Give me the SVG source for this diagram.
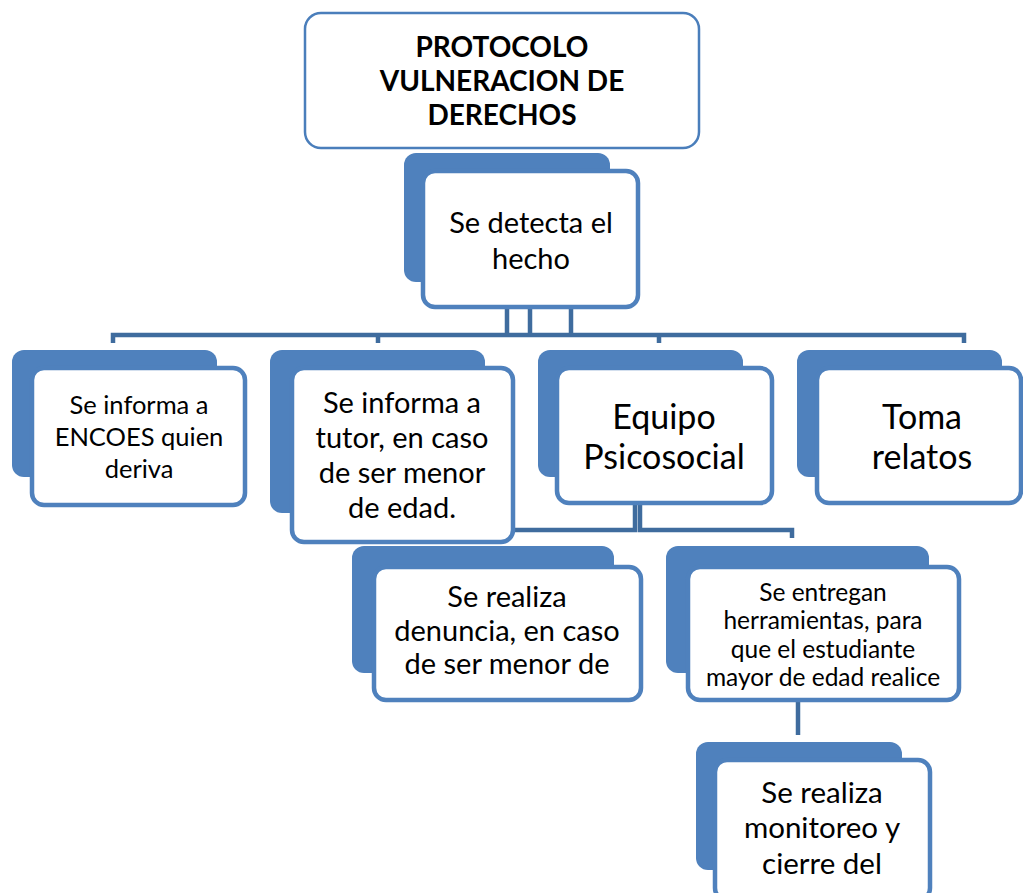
<svg xmlns="http://www.w3.org/2000/svg" width="1023" height="893" viewBox="0 0 1023 893">
<style>
.back{fill:#4f81bd;}
.front{fill:#ffffff;stroke:#4f81bd;stroke-width:4.5;}
.top{fill:#ffffff;stroke:#4a7ebb;stroke-width:2.5;}
.conn{stroke:#3f6c9e;stroke-width:4.5;fill:none;}
text{font-family:Lato,"Liberation Sans",sans-serif;fill:#000;text-anchor:middle;}
.t{font-weight:bold;font-size:28px;}
</style>
<rect width="1023" height="893" fill="#ffffff"/>
<g id="connectors">
<path class="conn" d="M507,307 V335 M530,307 V335 M571,307 V335 M113,343 V335 H964 V343 M378,335 V343 M659,335 V343"/>
<path class="conn" d="M635,503 V530 H495 M640,503 V530 H792 V538"/>
<path class="conn" d="M798,700 V735"/>
</g>
<g id="n-protocolo">
<rect class="top" x="305" y="13" width="394" height="135" rx="16"/>
<text class="t" x="502" y="57">PROTOCOLO</text>
<text class="t" x="502" y="91">VULNERACION DE</text>
<text class="t" x="502" y="125">DERECHOS</text>
</g>
<g id="n-detecta">
<rect class="back" x="404" y="153" width="206" height="129" rx="12"/>
<rect class="front" x="423" y="171" width="215" height="136" rx="12"/>
<text x="531" y="233" font-size="29">Se detecta el</text>
<text x="531" y="269" font-size="29">hecho</text>
</g>
<g id="n-encoes">
<rect class="back" x="12" y="350" width="205" height="127" rx="12"/>
<rect class="front" x="32" y="368" width="213" height="137" rx="12"/>
<text x="139" y="414" font-size="25.5">Se informa a</text>
<text x="139" y="446" font-size="25.5">ENCOES quien</text>
<text x="139" y="478" font-size="25.5">deriva</text>
</g>
<g id="n-tutor">
<rect class="back" x="270" y="350" width="215" height="163" rx="12"/>
<rect class="front" x="292" y="368" width="221" height="174" rx="12"/>
<text x="402" y="413" font-size="29">Se informa a</text>
<text x="402" y="448" font-size="29">tutor, en caso</text>
<text x="402" y="483" font-size="29">de ser menor</text>
<text x="402" y="518" font-size="29">de edad.</text>
</g>
<g id="n-equipo">
<rect class="back" x="538" y="350" width="205" height="127" rx="12"/>
<rect class="front" x="557" y="368" width="215" height="135" rx="12"/>
<text x="664" y="429" font-size="34">Equipo</text>
<text x="664" y="469" font-size="34">Psicosocial</text>
</g>
<g id="n-toma">
<rect class="back" x="797" y="350" width="205" height="127" rx="12"/>
<rect class="front" x="817" y="368" width="204" height="135" rx="12"/>
<text x="922" y="429" font-size="34">Toma</text>
<text x="922" y="469" font-size="34">relatos</text>
</g>
<g id="n-denuncia">
<rect class="back" x="352" y="546" width="262" height="127" rx="12"/>
<rect class="front" x="374" y="567" width="267" height="133" rx="12"/>
<text x="507" y="607" font-size="29">Se realiza</text>
<text x="507" y="641" font-size="29">denuncia, en caso</text>
<text x="507" y="674" font-size="29">de ser menor de</text>
</g>
<g id="n-herramientas">
<rect class="back" x="666" y="546" width="263" height="127" rx="12"/>
<rect class="front" x="688" y="567" width="271" height="133" rx="12"/>
<text x="823" y="601" font-size="24.5">Se entregan</text>
<text x="823" y="629" font-size="24.5">herramientas, para</text>
<text x="823" y="658" font-size="24.5">que el estudiante</text>
<text x="823" y="686" font-size="24.5">mayor de edad realice</text>
</g>
<g id="n-monitoreo">
<rect class="back" x="696" y="742" width="206" height="128" rx="12"/>
<rect class="front" x="715" y="760" width="215" height="140" rx="12"/>
<text x="822" y="803" font-size="29.5">Se realiza</text>
<text x="822" y="838" font-size="29.5">monitoreo y</text>
<text x="822" y="874" font-size="29.5">cierre del</text>
</g>
</svg>
